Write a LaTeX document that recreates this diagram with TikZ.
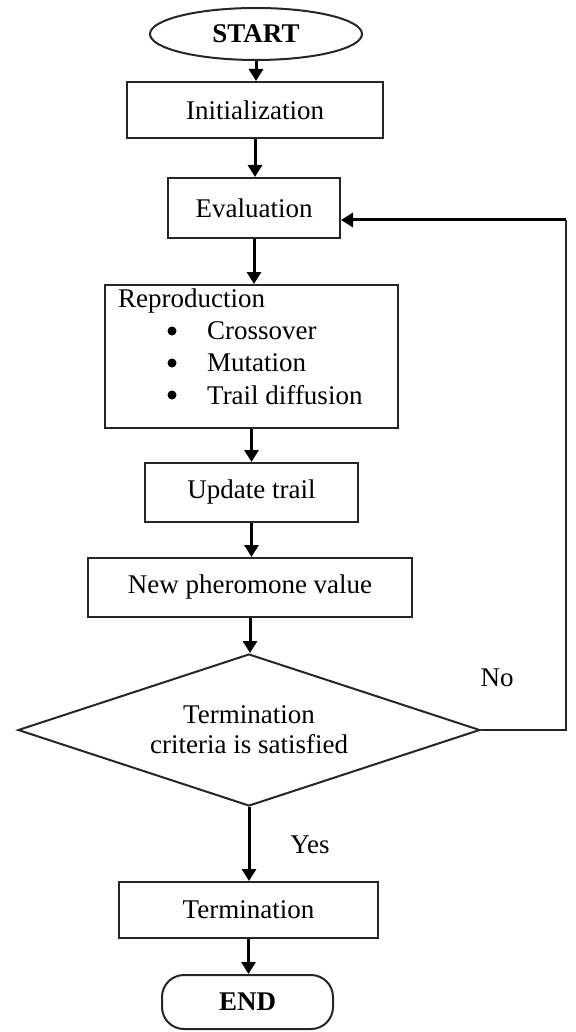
\documentclass[tikz,border=0pt]{standalone}
\usepackage{fontspec}
\setmainfont{Liberation Serif}
\usetikzlibrary{shapes.geometric,arrows.meta,calc}
\begin{document}
\begin{tikzpicture}[x=1pt,y=-1pt,
  every node/.style={font=\fontsize{27}{30}\selectfont},
  box/.style={draw=black!85, line width=2pt, rectangle, inner sep=0pt},
  arr/.style={line width=3pt, -{Triangle[length=12pt,width=14pt]}},
  fb/.style={line width=2.2pt, draw=black!85},
  lbl/.style={inner sep=0pt},
  bul/.style={circle, fill=black, inner sep=0pt, minimum size=9pt}
]
\useasboundingbox (0,0) rectangle (575,1032);
\fill[white] (0,0) rectangle (575,1032);
% nodes
\node[box, ellipse, minimum width=212pt, minimum height=52pt, font=\fontsize{27}{30}\selectfont\bfseries] (start) at (256,34) {START};
\node[box, minimum width=256pt, minimum height=56pt] (init) at (255,110) {Initialization};
\node[box, minimum width=172pt, minimum height=60pt] (eval) at (254,208) {Evaluation};
\node[box, minimum width=293pt, minimum height=143pt] (repro) at (251.5,356.5) {};
\node[lbl, anchor=west] (rhead) at (118,301) {Reproduction};
\node[bul] (b1) at (172,331) {};
\node[bul] (b2) at (172,363) {};
\node[bul] (b3) at (172,395) {};
\node[lbl, anchor=west] (i1) at (207,331) {Crossover};
\node[lbl, anchor=west] (i2) at (207,363) {Mutation};
\node[lbl, anchor=west] (i3) at (207,395) {Trail diffusion};
\node[box, minimum width=213pt, minimum height=59pt] (upd) at (251.5,492.5) {Update trail};
\node[box, minimum width=324pt, minimum height=59pt] (newph) at (250,587.5) {New pheromone value};
\node[box, diamond, shape aspect=3.04, minimum width=462pt, minimum height=152pt, align=center] (dec) at (249,730) {Termination\\criteria is satisfied};
\node[box, minimum width=259pt, minimum height=56pt] (term) at (248.5,910) {Termination};
\node[box, rounded corners=22pt, minimum width=171pt, minimum height=54pt, font=\fontsize{27}{30}\selectfont\bfseries] (end) at (247.5,1002) {END};
\node[lbl] (no) at (497,678) {No};
\node[lbl] (yes) at (310,845) {Yes};
% connectors
\draw[arr] (start.south) -- (start.south |- init.north);
\draw[arr] (init.south) -- (init.south |- eval.north);
\draw[arr] (eval.south) -- (eval.south |- repro.north);
\draw[arr] (repro.south) -- (repro.south |- upd.north);
\draw[arr] (upd.south) -- (upd.south |- newph.north);
\draw[arr] (newph.south) -- (newph.south |- dec.north);
\draw[arr] (dec.south) -- (dec.south |- term.north);
\draw[arr] (term.south) -- (term.south |- end.north);
\coordinate (c1) at (566,730);
\coordinate (c2) at (566,220);
\draw[fb] (dec.east) -- (c1) -- (c2);
\draw[arr] (c2) -- (c2 -| eval.east);
\end{tikzpicture}
\end{document}
